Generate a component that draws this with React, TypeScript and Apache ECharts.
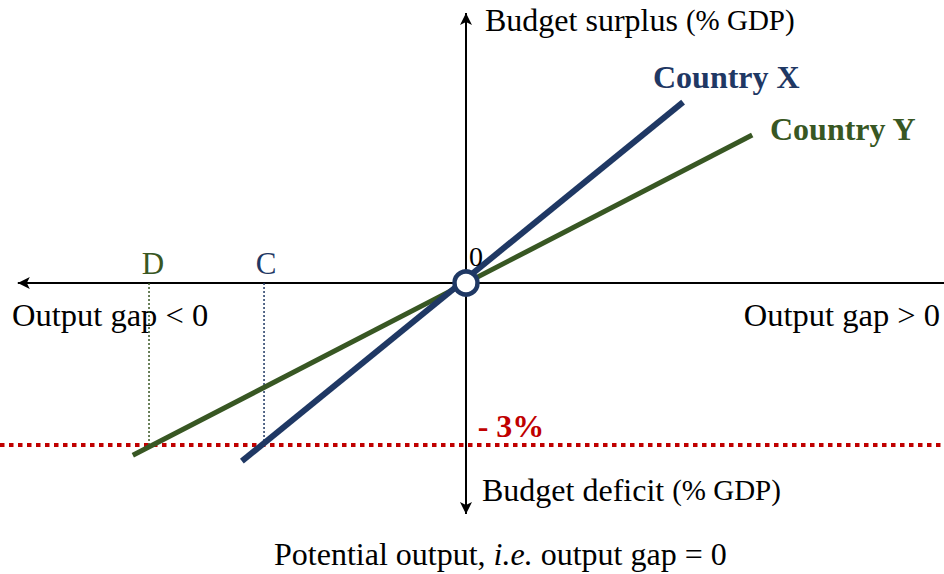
import React, { useEffect, useRef } from "react";
import * as echarts from "echarts";

// Diagram data (units: % of GDP on the vertical axis, same scale on horizontal)
const countryX: [number, number][] = [
  [-4.15, -3.3],
  [4.02, 3.35],
];
const countryY: [number, number][] = [
  [-6.17, -3.19],
  [5.3, 2.74],
];
const deficitLimit = -3;
const pointC = -3.74;
const pointD = -5.87;
const pointLabels = ["C", "D"];

// Layout of the plotting plane
const UNIT = 54; // px per unit
const ORIGIN_X = 466;
const ORIGIN_Y = 283;
const W = 944;
const H = 574;
const X_MIN = -ORIGIN_X / UNIT;
const X_MAX = (W - ORIGIN_X) / UNIT;
const Y_MAX = ORIGIN_Y / UNIT;
const Y_MIN = -(H - ORIGIN_Y) / UNIT;

const NAVY = "#1f3864";
const GREEN = "#385723";
const RED = "#c00000";
const FONT = '"Liberation Serif", "Times New Roman", serif';

export default function App() {
  const ref = useRef<HTMLDivElement>(null);
  useEffect(() => {
    const chart = echarts.init(ref.current!, null, { renderer: "svg" });
    const option: any = {
      animation: false,
      backgroundColor: "#ffffff",
      grid: { left: 0, right: 0, top: 0, bottom: 0 },
      xAxis: { type: "value", min: X_MIN, max: X_MAX, show: false },
      yAxis: { type: "value", min: Y_MIN, max: Y_MAX, show: false },
      series: [
        {
          name: "deficit limit",
          type: "line",
          z: 1,
          symbol: "none",
          silent: true,
          data: [
            [X_MIN, deficitLimit],
            [X_MAX, deficitLimit],
          ],
          lineStyle: { color: RED, width: 4, type: [4.5, 4.5], opacity: 1 },
        },
        {
          name: "horizontal axis",
          type: "line",
          z: 2,
          silent: true,
          data: [
            { value: [-8.3, 0], symbol: "arrow", symbolSize: [9, 12], symbolRotate: 90 },
            { value: [X_MAX, 0], symbol: "none" },
          ],
          lineStyle: { color: "#000", width: 2 },
          itemStyle: { color: "#000" },
        },
        {
          name: "vertical axis",
          type: "line",
          z: 2,
          silent: true,
          data: [
            { value: [0, 5.0], symbol: "arrow", symbolSize: [9, 12] },
            { value: [0, -4.28], symbol: "arrow", symbolSize: [9, 12], symbolRotate: 180 },
          ],
          lineStyle: { color: "#000", width: 2 },
          itemStyle: { color: "#000" },
        },
        {
          name: "D line",
          type: "line",
          z: 3,
          symbol: "none",
          silent: true,
          data: [
            [pointD, 0],
            [pointD, deficitLimit],
          ],
          lineStyle: { color: GREEN, width: 1.5, type: [2, 2] },
        },
        {
          name: "C line",
          type: "line",
          z: 3,
          symbol: "none",
          silent: true,
          data: [
            [pointC, 0],
            [pointC, deficitLimit],
          ],
          lineStyle: { color: NAVY, width: 1.5, type: [2, 2] },
        },
        {
          name: "Country Y",
          type: "line",
          z: 4,
          symbol: "none",
          data: countryY,
          lineStyle: { color: GREEN, width: 5, cap: "butt" },
        },
        {
          name: "Country X",
          type: "line",
          z: 5,
          symbol: "none",
          data: countryX,
          lineStyle: { color: NAVY, width: 6, cap: "butt" },
        },
        {
          name: "origin",
          type: "scatter",
          z: 6,
          data: [[0, 0]],
          symbolSize: 23,
          itemStyle: { color: "#ffffff", borderColor: NAVY, borderWidth: 4.5, opacity: 1 },
        },
        {
          name: "labels",
          type: "scatter",
          z: 7,
          symbolSize: 0,
          silent: true,
          itemStyle: { color: "transparent", opacity: 1 },
          data: [
            {
              value: [pointC, 0],
              label: {
                show: true,
                formatter: pointLabels[0],
                position: "top",
                distance: 4,
                offset: [2, 0],
                color: NAVY,
                fontSize: 31,
                fontFamily: FONT,
              },
            },
            {
              value: [pointD, 0],
              label: {
                show: true,
                formatter: pointLabels[1],
                position: "top",
                distance: 4,
                offset: [4, 0],
                color: GREEN,
                fontSize: 31,
                fontFamily: FONT,
              },
            },
            {
              value: [0, 0],
              label: {
                show: true,
                formatter: "0",
                position: "top",
                distance: 13,
                offset: [10, 0],
                color: "#000",
                fontSize: 28,
                fontFamily: FONT,
              },
            },
            {
              value: [0, deficitLimit],
              label: {
                show: true,
                formatter: "- 3%",
                position: "top",
                distance: 3,
                offset: [45, 0],
                color: RED,
                fontSize: 32,
                fontWeight: "bold",
                fontFamily: FONT,
              },
            },
          ],
        },
      ],
      graphic: [
        {
          type: "text",
          left: 485,
          top: 4,
          style: {
            text: "{a|Budget surplus }{b|(% GDP)}",
            rich: {
              a: { fontSize: 32, fontFamily: FONT, fill: "#000" },
              b: { fontSize: 29, fontFamily: FONT, fill: "#000" },
            },
          },
        },
        {
          type: "text",
          left: 482,
          top: 474,
          style: {
            text: "{a|Budget deficit }{b|(% GDP)}",
            rich: {
              a: { fontSize: 32, fontFamily: FONT, fill: "#000" },
              b: { fontSize: 29, fontFamily: FONT, fill: "#000" },
            },
          },
        },
        {
          type: "text",
          left: 12,
          top: 298,
          style: { text: "Output gap < 0", fontSize: 32.5, fontFamily: FONT, fill: "#000" },
        },
        {
          type: "text",
          right: 4,
          top: 298,
          style: { text: "Output gap > 0", fontSize: 32.5, fontFamily: FONT, fill: "#000" },
        },
        {
          type: "text",
          left: 274,
          top: 538,
          style: {
            text: "{a|Potential output, }{i|i.e.}{a| output gap = 0}",
            rich: {
              a: { fontSize: 32, fontFamily: FONT, fill: "#000" },
              i: { fontSize: 32, fontFamily: FONT, fontStyle: "italic", fill: "#000" },
            },
          },
        },
        {
          type: "text",
          left: 653,
          top: 61,
          style: { text: "Country X", fontSize: 32, fontWeight: "bold", fontFamily: FONT, fill: NAVY },
        },
        {
          type: "text",
          left: 770,
          top: 113,
          style: { text: "Country Y", fontSize: 32, fontWeight: "bold", fontFamily: FONT, fill: GREEN },
        },
      ],
    };
    chart.setOption(option);
    return () => chart.dispose();
  }, []);
  return (
    <div
      ref={ref}
      style={{ position: "fixed", left: 0, top: 0, width: W, height: H, background: "#fff" }}
    />
  );
}
